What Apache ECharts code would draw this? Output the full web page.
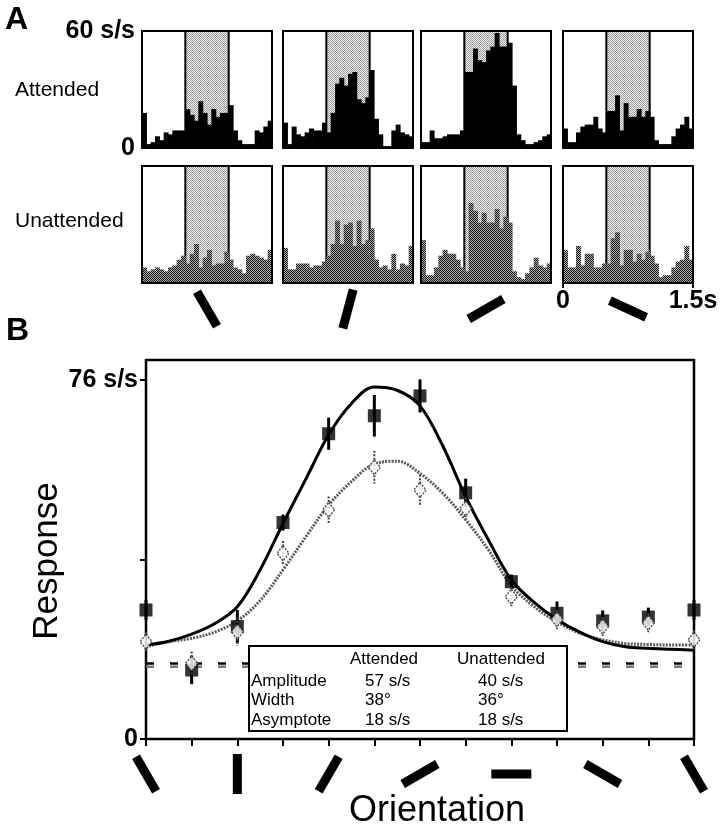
<!DOCTYPE html>
<html><head><meta charset="utf-8">
<script src="https://cdn.jsdelivr.net/npm/echarts@6/dist/echarts.min.js"></script>
<style>html,body{margin:0;padding:0;background:#fff}#c{width:727px;height:836px}</style>
</head><body><div id="c"></div>
<script>
// ---------------- DATA ----------------
// Panel A: peri-stimulus histograms, 30 bins of 50 ms over 0..1.5 s (spikes/s)
const binWidth = 0.05;
const stimulusWindow = [0.5, 1.0];
const attended1 = [18,2,3,6,4,8,7,9,9,9,20,17,14,24,18,12,20,16,18,18,22,9,4,2,2,2,9,8,11,14];
const attended2 = [13,2,11,7,6,8,10,9,9,13,8,18,33,36,32,38,39,25,23,26,40,15,7,1,1,9,12,8,7,6];
const attended3 = [3,3,9,5,5,6,7,7,7,9,39,39,51,45,44,50,52,59,52,52,54,32,7,4,2,2,3,4,6,7];
const attended4 = [10,3,3,8,11,12,12,16,10,8,19,19,27,9,23,16,16,20,16,19,16,4,2,2,2,6,10,12,16,10];
const unattended1 = [8,6,7,8,7,6,8,9,12,14,10,15,20,8,13,17,9,10,10,16,12,8,7,5,14,15,14,13,12,17];
const unattended2 = [18,7,7,10,10,10,8,9,9,11,14,20,32,20,30,31,19,32,20,22,28,12,8,9,7,15,7,10,9,19];
const unattended3 = [22,4,4,8,14,17,15,15,12,8,6,41,37,31,36,31,31,38,28,34,31,6,3,2,5,8,13,9,8,10];
const unattended4 = [17,8,8,19,9,15,15,8,8,10,10,23,26,9,17,17,11,15,12,16,14,10,3,4,4,8,11,12,19,12];
const panelOrientations = [150, 15, 60, 115]; // degrees, clockwise from vertical
const rowLabels = ['Attended', 'Unattended'];
const histTickLabels = ['0', '1.5s'];
const histYLabels = ['0', '60 s/s'];

// Panel B: tuning curves
const angles = [-30,-15,0,15,30,45,60,75,90,105,120,135,150];
const attendedMean = [27.3,14.6,23.8,45.8,64.6,68.4,72.6,52.1,33.3,26.6,25.0,25.8,27.3];
const attendedErr  = [2.1,3.0,3.5,1.7,3.4,4.4,3.5,3.0,1.5,2.5,2.2,2.0,2.1];
const unattendedMean = [20.6,16.0,22.7,39.3,48.5,57.5,52.7,48.8,30.1,25.3,23.8,24.6,21.0];
const unattendedErr  = [2.0,2.5,3.0,2.6,2.8,3.5,3.2,2.3,2.0,2.0,2.0,2.0,2.0];
const fitAngles = [-30,-22.5,-15,-7.5,0,7.5,15,22.5,30,37.5,45,52.5,60,67.5,75,82.5,90,97.5,105,112.5,120,127.5,135,142.5,150];
const attendedFit = [19.9,20.7,22.2,24.4,28.0,35.8,45.6,55.0,64.4,71.0,74.5,73.8,70.5,62.0,51.3,42.1,33.7,28.9,25.3,22.6,20.6,19.5,19.2,19.0,18.8];
const unattendedFit = [19.5,20.6,21.3,22.6,25.0,29.3,35.8,42.8,49.5,54.5,58.2,58.8,56.2,52.0,46.4,40.0,32.5,28.0,24.8,22.4,21.0,20.2,20.0,19.9,19.9];
const spontaneousAttended = 16.0;
const spontaneousUnattended = 15.3;
const glyphAnglesB = [-30, 0, 30, 60, 90, 120, 150];
const responseTicks = [0, 38, 76];
const responseLabels = ['0', '76 s/s'];
const tableHeader = ['Attended', 'Unattended'];
const tableRows = ['Amplitude', 'Width', 'Asymptote'];
const tableAttended = ['57 s/s', '38°', '18 s/s'];
const tableUnattended = ['40 s/s', '36°', '18 s/s'];

// ---------------- STYLE ----------------
const FONT = '"Liberation Sans", Arial, Helvetica, sans-serif';
function makePattern(size, pix) {
  const c = document.createElement('canvas');
  c.width = c.height = size;
  const ctx = c.getContext('2d');
  for (let y = 0; y < size; y++) for (let x = 0; x < size; x++) {
    ctx.fillStyle = pix[(y * size + x) % pix.length];
    ctx.fillRect(x, y, 1, 1);
  }
  return { image: c, repeat: 'repeat' };
}
const lightStipple = makePattern(2, ['#9a9a9a', '#f2f2f2', '#f2f2f2', '#9a9a9a']);
const darkStipple = makePattern(2, ['#111111', '#b0b0b0', '#b0b0b0', '#111111']);

const chart = echarts.init(document.getElementById('c'), null, { renderer: 'canvas' });

const colLeft = [142, 283, 421, 563];
const rowTop = [31, 166];
const PW = 130, PH = 117;

const grids = [], xAxes = [], yAxes = [], series = [];
const histData = [attended1, attended2, attended3, attended4, unattended1, unattended2, unattended3, unattended4];

for (let r = 0; r < 2; r++) {
  for (let c = 0; c < 4; c++) {
    const idx = r * 4 + c;
    grids.push({ left: colLeft[c], top: rowTop[r], width: PW, height: PH, show: true,
      borderColor: '#000', borderWidth: 2, backgroundColor: 'transparent', z: 5 });
    const showX = (idx === 7);
    xAxes.push({ gridIndex: idx, type: 'value', min: 0, max: 1.5,
      axisLine: { show: false, onZero: false }, splitLine: { show: false },
      axisTick: showX ? { show: true, customValues: [0, 1.5], length: 5, lineStyle: { color: '#000', width: 2 } } : { show: false },
      axisLabel: showX ? { show: true, customValues: [0, 1.5], margin: 6,
        formatter: v => v === 0 ? histTickLabels[0] : histTickLabels[1],
        color: '#000', fontSize: 25, fontWeight: 'bold', fontFamily: FONT } : { show: false } });
    const showY = (idx === 0);
    yAxes.push({ gridIndex: idx, type: 'value', min: 0, max: 60,
      axisLine: { show: false, onZero: false }, splitLine: { show: false }, axisTick: { show: false },
      axisLabel: showY ? { show: true, customValues: [0, 60], margin: 7,
        formatter: v => v === 0 ? histYLabels[0] : histYLabels[1],
        color: '#000', fontSize: 25, fontWeight: 'bold', fontFamily: FONT } : { show: false } });
    // stimulus window shading
    series.push({ type: 'custom', xAxisIndex: idx, yAxisIndex: idx, z: 1, silent: true,
      data: [[stimulusWindow[0], stimulusWindow[1]]],
      renderItem: (params, api) => {
        const p0 = api.coord([api.value(0), 60]);
        const p1 = api.coord([api.value(1), 0]);
        return { type: 'group', children: [
          { type: 'rect', shape: { x: p0[0], y: p0[1], width: p1[0] - p0[0], height: p1[1] - p0[1] }, style: { fill: lightStipple } },
          { type: 'line', shape: { x1: p0[0], y1: p0[1], x2: p0[0], y2: p1[1] }, style: { stroke: '#000', lineWidth: 2 } },
          { type: 'line', shape: { x1: p1[0], y1: p0[1], x2: p1[0], y2: p1[1] }, style: { stroke: '#000', lineWidth: 2 } }
        ] };
      } });
    const fill = r === 0 ? '#000' : darkStipple;
    series.push({ type: 'custom', xAxisIndex: idx, yAxisIndex: idx, z: 2, silent: true,
      data: histData[idx].map((v, i) => [i * binWidth, v]),
      encode: { x: 0, y: 1 },
      renderItem: (params, api) => {
        const t = api.value(0), v = api.value(1);
        const a = api.coord([t, v]);
        const b = api.coord([t + binWidth, 0]);
        return { type: 'rect', shape: { x: a[0], y: a[1], width: b[0] - a[0] + 0.6, height: b[1] - a[1] }, style: { fill: fill } };
      } });
  }
}

// Panel B
const GB = 8;
grids.push({ left: 146, top: 360, width: 548, height: 379, show: true, borderColor: '#000', borderWidth: 2.5, backgroundColor: 'transparent', z: 0 });
xAxes.push({ gridIndex: GB, type: 'value', min: -30, max: 150, interval: 15,
  axisLine: { show: false, onZero: false }, splitLine: { show: false }, axisLabel: { show: false },
  axisTick: { show: true, inside: false, length: 7, lineStyle: { color: '#000', width: 2 } } });
yAxes.push({ gridIndex: GB, type: 'value', min: 0, max: 80.2,
  axisLine: { show: false, onZero: false }, splitLine: { show: false },
  axisTick: { show: true, customValues: responseTicks, length: 6, lineStyle: { color: '#000', width: 2 } },
  axisLabel: { show: true, customValues: [0, 76], margin: 8,
    formatter: v => v === 0 ? responseLabels[0] : responseLabels[1],
    color: '#000', fontSize: 25, fontWeight: 'bold', fontFamily: FONT } });

const errRender = (color, width, dash) => (params, api) => {
  const x = api.value(0), v = api.value(1), e = api.value(2);
  const a = api.coord([x, v + e]), b = api.coord([x, v - e]);
  return { type: 'line', shape: { x1: a[0], y1: a[1], x2: b[0], y2: b[1] }, style: { stroke: color, lineWidth: width, lineDash: dash } };
};

series.push(
  { type: 'line', xAxisIndex: GB, yAxisIndex: GB, z: 2, silent: true, symbol: 'none',
    data: [[angles[0], spontaneousUnattended], [angles[angles.length - 1], spontaneousUnattended]],
    lineStyle: { color: '#777', width: 2.5, type: [8, 16] } },
  { type: 'line', xAxisIndex: GB, yAxisIndex: GB, z: 2, silent: true, symbol: 'none',
    data: [[angles[0], spontaneousAttended], [angles[angles.length - 1], spontaneousAttended]],
    lineStyle: { color: '#000', width: 2.5, type: [8, 16] } },
  { type: 'line', xAxisIndex: GB, yAxisIndex: GB, z: 2, silent: true, symbol: 'none', smooth: 0.35,
    data: fitAngles.map((a, i) => [a, unattendedFit[i]]),
    lineStyle: { color: '#5a5a5a', width: 3, type: [2, 1.2] } },
  { type: 'line', xAxisIndex: GB, yAxisIndex: GB, z: 3, silent: true, symbol: 'none', smooth: 0.35,
    data: fitAngles.map((a, i) => [a, attendedFit[i]]),
    lineStyle: { color: '#000', width: 3 } },
  { type: 'custom', xAxisIndex: GB, yAxisIndex: GB, z: 4, silent: true, clip: false,
    data: angles.map((a, i) => [a, attendedMean[i], attendedErr[i]]), encode: { x: 0, y: 1 },
    renderItem: errRender('#000', 3, null) },
  { type: 'scatter', xAxisIndex: GB, yAxisIndex: GB, z: 4, silent: true, clip: false,
    symbol: 'rect', symbolSize: 13,
    data: angles.map((a, i) => [a, attendedMean[i]]), itemStyle: { color: '#000' } },
  { type: 'custom', xAxisIndex: GB, yAxisIndex: GB, z: 5, silent: true, clip: false,
    data: angles.map((a, i) => [a, unattendedMean[i], unattendedErr[i]]), encode: { x: 0, y: 1 },
    renderItem: errRender('#444', 2, [2, 1.5]) },
  { type: 'scatter', xAxisIndex: GB, yAxisIndex: GB, z: 6, silent: true, clip: false,
    symbol: 'diamond', symbolSize: [12, 15],
    data: angles.map((a, i) => [a, unattendedMean[i]]),
    itemStyle: { color: '#fff', borderColor: '#333', borderWidth: 1.6, borderType: [2, 1.2] } }
);

chart.setOption({
  animation: false,
  backgroundColor: '#fff',
  grid: grids, xAxis: xAxes, yAxis: yAxes, series: series
});

// ---------------- ANNOTATIONS ----------------
function txt(text, x, y, size, opts) {
  opts = opts || {};
  return { type: 'text', x: x, y: y, z: 30, rotation: opts.rotation || 0, silent: true,
    style: { text: text, fill: '#000', fontSize: size, fontFamily: FONT, fontWeight: opts.bold ? 'bold' : 'normal',
      textAlign: opts.align || 'left', align: opts.align || 'left',
      textVerticalAlign: 'middle', verticalAlign: 'middle' } };
}
function glyph(cx, cy, deg) {
  return { type: 'rect', x: cx, y: cy, rotation: -deg * Math.PI / 180, z: 30, silent: true,
    shape: { x: -4.5, y: -20, width: 9, height: 40 }, style: { fill: '#000' } };
}

const g = [];
g.push(txt('A', 5, 20, 32, { bold: true }));
g.push(txt('B', 6, 331, 32, { bold: true }));
rowLabels.forEach((lab, r) => {
  g.push(txt(lab, 15, r === 0 ? 90 : 221, 21));
});
panelOrientations.forEach((deg, c) => {
  const p = chart.convertToPixel({ gridIndex: 4 + c }, [0.75, 0]);
  g.push(glyph(p[0], p[1] + 26, deg));
});
glyphAnglesB.forEach(a => {
  const p = chart.convertToPixel({ gridIndex: GB }, [a, 0]);
  g.push(glyph(p[0], p[1] + 35, a));
});
g.push(txt('Response', 47, 561, 35, { align: 'center', rotation: Math.PI / 2 }));
g.push(txt('Orientation', 437, 811, 36, { align: 'center' }));

// parameter table
g.push({ type: 'rect', z: 25, silent: true, shape: { x: 249, y: 646, width: 318, height: 85 },
  style: { fill: '#fff', stroke: '#000', lineWidth: 2 } });
g.push(txt(tableHeader[0], 350, 659, 17));
g.push(txt(tableHeader[1], 457, 659, 17));
tableRows.forEach((lab, i) => {
  const y = 681 + i * 19.5;
  g.push(txt(lab, 251, y, 17));
  g.push(txt(tableAttended[i], 365, y, 17));
  g.push(txt(tableUnattended[i], 478, y, 17));
});

chart.setOption({ graphic: g });
</script></body></html>
